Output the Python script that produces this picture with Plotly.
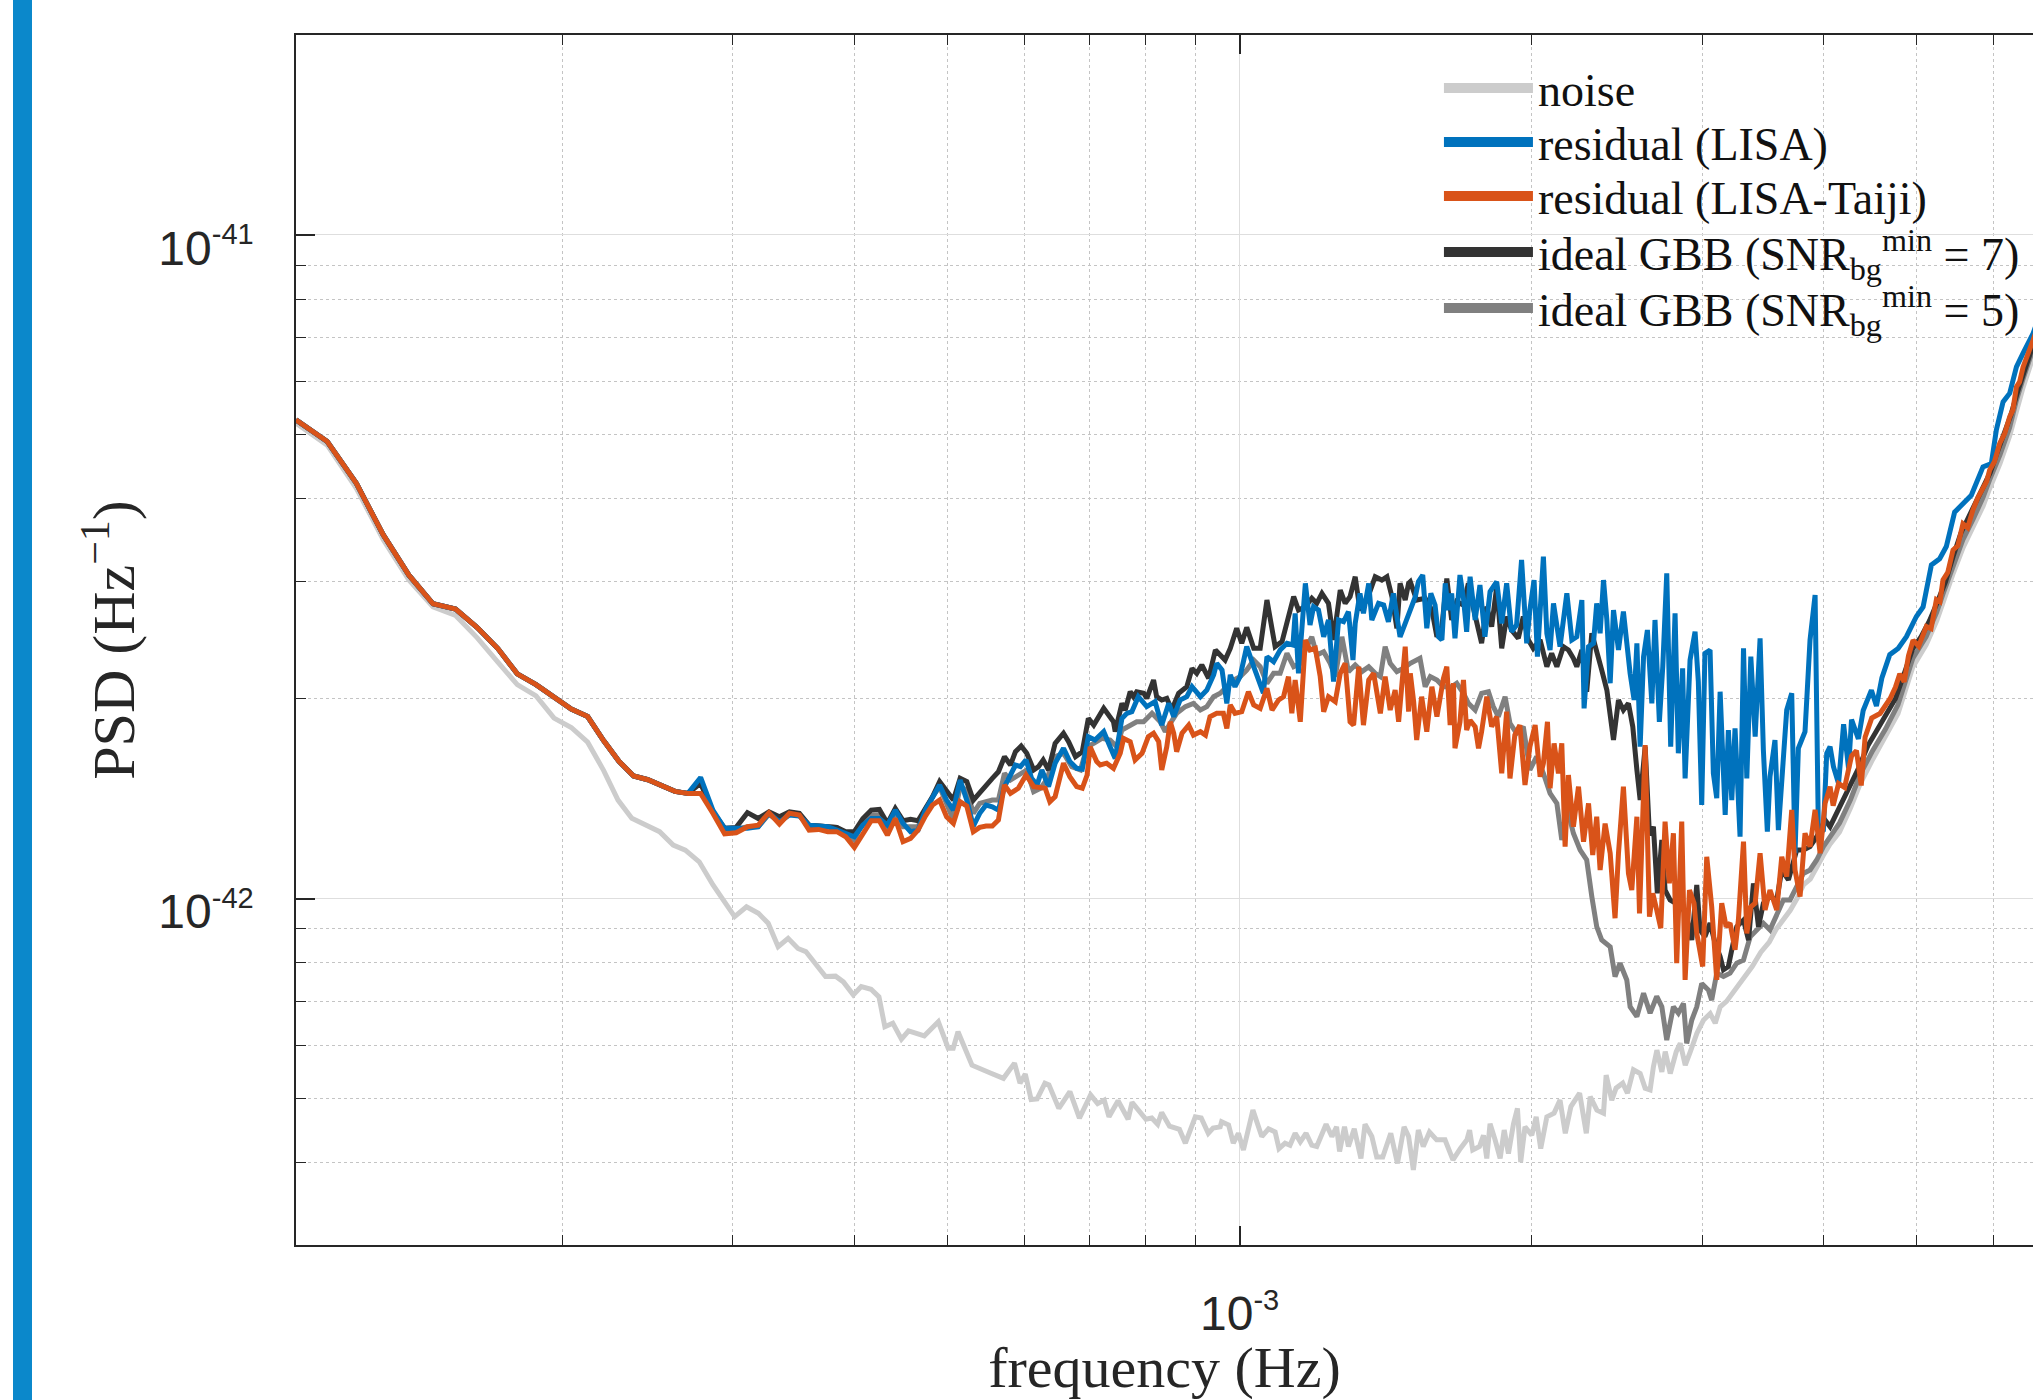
import plotly.graph_objects as go

# ---------------- data (frequency in mHz, PSD in units of 1e-42 Hz^-1) ----------------
f_noise = [0.1062, 0.1144, 0.1226, 0.1307, 0.1389, 0.1471, 0.1552, 0.1634, 0.1716, 0.1797, 0.1879, 0.1961, 0.2043, 0.2124, 0.2206,
           0.2283, 0.2359, 0.2520, 0.2603, 0.2679, 0.2769, 0.2861, 0.3012, 0.3098, 0.3187, 0.3262, 0.3340, 0.3420, 0.3501, 0.3567,
           0.3738, 0.3828, 0.3900, 0.3993, 0.4069, 0.4165, 0.4244, 0.4304, 0.4386, 0.4477, 0.4553, 0.4727, 0.4887, 0.5003, 0.5063,
           0.5121, 0.5294, 0.5420, 0.5546, 0.5705, 0.5857, 0.5934, 0.6009, 0.6093, 0.6180, 0.6296, 0.6356, 0.6507, 0.6681, 0.6834,
           0.7018, 0.7136, 0.7249, 0.7331, 0.7491, 0.7672, 0.7744, 0.8003, 0.8115, 0.8230, 0.8308, 0.8465, 0.8667, 0.8790, 0.9000,
           0.9127, 0.9282, 0.9388, 0.9548,
           0.958, 0.974, 0.985, 0.997, 1.009, 1.032, 1.054, 1.071, 1.088, 1.098, 1.114, 1.127, 1.141, 1.155, 1.171,
           1.187, 1.201, 1.228, 1.245, 1.259, 1.268, 1.283, 1.295, 1.313, 1.334, 1.347, 1.369, 1.385, 1.405, 1.432,
           1.455, 1.478, 1.494, 1.511, 1.529, 1.547, 1.570, 1.597, 1.629, 1.660, 1.689, 1.716, 1.727, 1.740, 1.768,
           1.785, 1.799, 1.813, 1.835, 1.857, 1.875, 1.894, 1.917, 1.935, 1.950, 1.970, 2.002, 2.023, 2.045, 2.075,
           2.111, 2.141, 2.168, 2.197, 2.243, 2.279, 2.300, 2.337, 2.374, 2.389, 2.421, 2.446, 2.485, 2.513, 2.549,
           2.590, 2.621, 2.652, 2.673, 2.695, 2.727, 2.749, 2.782, 2.822, 2.849, 2.883, 2.918, 2.964, 3.011, 3.059,
           3.096, 3.133,
           3.18, 3.25, 3.31, 3.38, 3.45, 3.52, 3.58, 3.64, 3.70, 3.76, 3.82, 3.88, 3.94, 4.00, 4.07, 4.16, 4.27, 4.37,
           4.50, 4.64, 4.78, 4.95, 5.11, 5.24, 5.32, 5.45, 5.58, 5.71, 5.85, 5.94, 6.09, 6.23, 6.33, 6.43, 6.59, 6.70]
psd_noise = [5.20, 4.82, 4.15, 3.47, 3.02, 2.75, 2.67, 2.47, 2.27, 2.10, 2.02, 1.87, 1.81, 1.72, 1.56,
             1.407, 1.321, 1.261, 1.204, 1.183, 1.136, 1.048, 0.939, 0.972, 0.950, 0.918, 0.846, 0.871, 0.841, 0.832,
             0.763, 0.764, 0.749, 0.716, 0.737, 0.730, 0.711, 0.641, 0.649, 0.614, 0.632, 0.621, 0.652, 0.595, 0.595,
             0.630, 0.561, 0.552, 0.545, 0.536, 0.565, 0.527, 0.544, 0.498, 0.499, 0.527, 0.524, 0.483, 0.512, 0.467,
             0.506, 0.491, 0.497, 0.469, 0.496, 0.465, 0.493, 0.465, 0.467, 0.457, 0.476, 0.454, 0.449, 0.428, 0.469,
             0.467, 0.443, 0.451, 0.453,
             0.461, 0.456, 0.428, 0.443, 0.418, 0.480, 0.438, 0.450, 0.445, 0.420, 0.428, 0.425, 0.443, 0.430, 0.443,
             0.425, 0.423, 0.457, 0.438, 0.453, 0.416, 0.453, 0.423, 0.450, 0.406, 0.457, 0.438, 0.408, 0.408, 0.443,
             0.399, 0.453, 0.438, 0.390, 0.448, 0.423, 0.445, 0.433, 0.433, 0.404, 0.420, 0.433, 0.448, 0.418, 0.423,
             0.440, 0.406, 0.458, 0.433, 0.406, 0.448, 0.413, 0.458, 0.483, 0.401, 0.453, 0.440, 0.469, 0.420, 0.469,
             0.475, 0.497, 0.443, 0.486, 0.509, 0.443, 0.503, 0.480, 0.475, 0.542, 0.497, 0.518, 0.527, 0.509, 0.552,
             0.545, 0.518, 0.515, 0.558, 0.591, 0.548, 0.588, 0.545, 0.588, 0.605, 0.561, 0.588, 0.627, 0.656, 0.671,
             0.649, 0.687,
             0.70, 0.73, 0.76, 0.79, 0.83, 0.86, 0.90, 0.93, 0.96, 1.00, 1.05, 1.07, 1.11, 1.16, 1.21, 1.26, 1.37, 1.49,
             1.62, 1.75, 1.90, 2.23, 2.41, 2.62, 2.80, 3.09, 3.38, 3.61, 3.90, 4.14, 4.52, 4.97, 5.45, 5.87, 6.55, 7.05]

# low-frequency part shared by the residual / ideal-GBB curves
f_low = [0.1062, 0.1144, 0.1226, 0.1307, 0.1389, 0.1471, 0.1552, 0.1634, 0.1716, 0.1797, 0.1879, 0.1961, 0.2043, 0.2124,
         0.2206, 0.2288, 0.2369, 0.2451, 0.2533, 0.2614, 0.2696]
psd_low = [5.26, 4.88, 4.22, 3.53, 3.07, 2.78, 2.73, 2.56, 2.38, 2.18, 2.10, 2.01, 1.93, 1.88, 1.73, 1.61, 1.53, 1.51,
           1.48, 1.45, 1.44]
f_plateau = [0.2778, 0.2860, 0.2941, 0.3023, 0.3105, 0.3186, 0.3268, 0.3350, 0.3431, 0.3513, 0.3595, 0.3677, 0.3758,
             0.3840, 0.3922, 0.4003, 0.4085, 0.4167, 0.4248, 0.4330, 0.4412, 0.4494, 0.4575, 0.4657, 0.4739, 0.4820,
             0.4902, 0.4984, 0.5065, 0.5147, 0.5229, 0.5311, 0.5392, 0.5474, 0.5556, 0.5637, 0.5719, 0.5801]

# residual (LISA)
psd_lisa_plateau = [1.522, 1.359, 1.276, 1.276, 1.276, 1.283, 1.344, 1.305, 1.336, 1.331, 1.290, 1.286, 1.283, 1.268,
                    1.254, 1.239, 1.290, 1.320, 1.320, 1.290, 1.359, 1.298, 1.261, 1.268, 1.359, 1.423, 1.483, 1.407,
                    1.359, 1.508, 1.407, 1.286, 1.344, 1.383, 1.375, 1.359, 1.474, 1.535]
f_lisa_high = [0.587, 0.594, 0.602, 0.610, 0.618, 0.625, 0.635, 0.645, 0.658, 0.668, 0.679, 0.688, 0.698, 0.709, 0.724,
               0.735, 0.744, 0.756, 0.765, 0.774, 0.786, 0.802, 0.818, 0.831, 0.845, 0.855, 0.868, 0.882, 0.893, 0.911,
               0.925, 0.940, 0.947, 0.959, 0.970, 0.978, 0.989, 1.001, 1.017, 1.034, 1.050, 1.058, 1.067, 1.084, 1.101,
               1.119, 1.135, 1.141, 1.150, 1.169, 1.182, 1.192, 1.206, 1.221, 1.235, 1.250, 1.265, 1.280, 1.295, 1.309,
               1.316, 1.331, 1.342, 1.359, 1.369, 1.391, 1.408, 1.424, 1.441, 1.464, 1.482,
               1.500, 1.518, 1.529, 1.545, 1.560, 1.575, 1.591, 1.604, 1.617, 1.630, 1.642, 1.655, 1.668, 1.688, 1.702,
               1.715, 1.729, 1.750, 1.770, 1.791, 1.813, 1.842, 1.864, 1.886, 1.908, 1.931, 1.954, 1.978, 1.993, 2.013,
               2.029, 2.058, 2.075, 2.091, 2.108, 2.141, 2.176, 2.202, 2.228, 2.255, 2.267, 2.291, 2.318, 2.336, 2.355,
               2.374, 2.393, 2.412, 2.431, 2.460, 2.489, 2.509, 2.529, 2.553, 2.570, 2.590, 2.611, 2.635, 2.663, 2.683,
               2.711, 2.733, 2.759, 2.785, 2.814, 2.836, 2.865, 2.882, 2.916, 2.951, 2.974, 2.998, 3.021, 3.058, 3.082,
               3.107, 3.132, 3.170, 3.194, 3.220, 3.245, 3.284, 3.311, 3.337, 3.369, 3.404, 3.444, 3.471, 3.504, 3.526,
               3.568, 3.597, 3.626, 3.669, 3.713, 3.742, 3.772, 3.832, 3.878, 3.925, 3.956, 4.003, 4.035, 4.067,
               4.10, 4.15, 4.20, 4.25, 4.28, 4.35, 4.40, 4.487, 4.541, 4.60, 4.687, 4.781, 4.876, 4.993, 5.073,
               5.174, 5.277, 5.361, 5.468, 5.577, 5.689, 5.849, 5.966, 6.038, 6.135, 6.233, 6.333, 6.434, 6.589, 6.70]
psd_lisa_high = [1.589, 1.580, 1.617, 1.517, 1.483, 1.562, 1.474, 1.599, 1.684, 1.608, 1.571, 1.566, 1.753, 1.733, 1.784,
                 1.693, 1.626, 1.868, 1.901, 1.912, 2.014, 1.946, 1.980, 1.825, 1.968, 1.879, 1.991, 2.014, 2.085, 2.014,
                 2.061, 2.172, 2.261, 2.209, 1.968, 2.172, 2.085, 2.159, 2.396, 2.235, 2.085, 2.038, 2.314, 2.274, 2.368,
                 2.424, 2.410, 2.689, 2.184, 2.984, 2.582, 2.752, 2.720, 2.479, 2.628, 2.122, 2.628, 2.612, 2.705, 2.287,
                 2.597, 2.882, 2.689, 2.984, 2.628, 2.784, 2.768, 2.612, 2.882, 2.479, 2.597,
                 2.736, 2.849, 3.001, 3.071, 2.553, 2.882, 2.768, 2.479, 2.452, 2.984, 2.720, 2.882, 2.466, 3.071, 2.833,
                 2.523, 3.053, 2.628, 2.967, 2.479, 2.899, 3.001, 2.597, 2.984, 2.523, 2.582, 3.236, 2.424, 2.720, 3.018,
                 2.314, 3.273, 2.509, 2.368, 2.784, 2.396, 2.882, 2.452, 2.479, 2.816, 1.934, 2.396, 2.424, 2.784, 2.509,
                 3.018, 2.628, 2.110, 2.720, 2.368, 2.705, 2.396, 2.184, 1.991, 2.424, 1.693, 2.314, 2.538, 1.968, 2.628,
                 1.846, 2.235, 3.089, 1.693, 2.689, 1.655, 2.222, 1.517, 2.287, 2.523, 2.122, 1.383, 2.341, 2.368, 1.544,
                 1.416, 2.049, 1.336, 1.794, 1.407, 1.804, 1.239, 2.382, 1.517, 2.314, 1.753, 2.466, 1.674, 1.261, 1.526,
                 1.733, 1.268, 1.474, 1.923, 2.038, 1.170, 1.684, 1.784, 2.452, 2.866, 1.254, 1.268, 1.655, 1.693,
                 1.58, 1.49, 1.83, 1.57, 1.86, 1.74, 1.92, 2.06, 1.95, 2.15, 2.33, 2.38, 2.48, 2.66, 2.75,
                 3.18, 3.25, 3.39, 3.82, 3.94, 4.05, 4.47, 4.52, 5.08, 5.60, 5.77, 6.32, 6.63, 7.10, 7.60]

# residual (LISA-Taiji)
psd_taiji_plateau = [1.440, 1.344, 1.251, 1.256, 1.283, 1.290, 1.347, 1.295, 1.344, 1.336, 1.268, 1.271, 1.261, 1.261,
                     1.239, 1.194, 1.251, 1.310, 1.310, 1.246, 1.320, 1.218, 1.232, 1.268, 1.331, 1.383, 1.407, 1.328,
                     1.298, 1.399, 1.378, 1.261, 1.280, 1.286, 1.286, 1.313, 1.483, 1.440]
f_taiji_high = [0.591, 0.602, 0.613, 0.623, 0.630, 0.637, 0.645, 0.658, 0.668, 0.679, 0.688, 0.696, 0.701, 0.712, 0.718,
                0.729, 0.741, 0.753, 0.759, 0.771, 0.780, 0.793, 0.805, 0.815, 0.825, 0.831, 0.841, 0.848, 0.855, 0.861,
                0.872, 0.886, 0.896, 0.911, 0.922, 0.932, 0.947, 0.962, 0.970, 0.978, 0.989, 1.005, 1.021, 1.034, 1.050,
                1.067, 1.080, 1.097, 1.110, 1.123, 1.132, 1.141, 1.155, 1.169, 1.182, 1.197, 1.211, 1.221, 1.235, 1.255,
                1.270, 1.285, 1.300, 1.311, 1.327, 1.342, 1.359, 1.375, 1.397, 1.413, 1.430, 1.447, 1.459, 1.482, 1.494,
                1.500, 1.512, 1.523, 1.541, 1.560, 1.579, 1.598, 1.610, 1.623, 1.636, 1.649, 1.662, 1.668, 1.688, 1.702,
                1.715, 1.729, 1.750, 1.764, 1.777, 1.799, 1.820, 1.842, 1.864, 1.886, 1.901, 1.923, 1.946, 1.970, 1.993,
                2.018, 2.042, 2.058, 2.078, 2.091, 2.111, 2.133, 2.150, 2.167, 2.184, 2.210, 2.237, 2.264, 2.291, 2.314,
                2.336, 2.355, 2.383, 2.412, 2.440, 2.460, 2.489, 2.519, 2.539, 2.570, 2.586, 2.621, 2.648, 2.669, 2.694,
                2.720, 2.748, 2.776, 2.803, 2.825, 2.859, 2.882, 2.912, 2.944, 2.963, 3.005, 3.034, 3.070, 3.107, 3.144,
                3.177, 3.207, 3.245, 3.271, 3.311, 3.337, 3.369, 3.404, 3.444, 3.485, 3.526, 3.583, 3.626, 3.669, 3.713,
                3.742, 3.787, 3.832, 3.878, 3.925, 3.972, 4.019, 4.067,
                4.097, 4.15, 4.21, 4.28, 4.33, 4.38, 4.42, 4.49, 4.58, 4.69, 4.75, 4.80, 4.85, 4.90, 4.954,
                5.02, 5.113, 5.17, 5.236, 5.28, 5.319, 5.38, 5.447, 5.51, 5.577, 5.64, 5.711, 5.78, 5.849, 5.90,
                5.943, 6.01, 6.086, 6.16, 6.233, 6.28, 6.333, 6.38, 6.434, 6.50, 6.589, 6.70]
psd_taiji_high = [1.466, 1.535, 1.474, 1.466, 1.466, 1.399, 1.424, 1.599, 1.526, 1.474, 1.466, 1.535, 1.693, 1.608, 1.589,
                  1.599, 1.571, 1.655, 1.743, 1.723, 1.617, 1.655, 1.753, 1.774, 1.723, 1.562, 1.693, 1.846, 1.774, 1.664,
                  1.774, 1.825, 1.763, 1.784, 1.763, 1.879, 1.901, 1.901, 1.804, 1.957, 1.901, 1.912, 2.049, 1.957, 1.934,
                  2.073, 1.923, 1.991, 2.014, 2.159, 1.901, 2.134, 1.846, 2.452, 2.368, 2.382, 2.159, 1.912, 2.014, 1.980,
                  2.184, 2.261, 1.846, 1.825, 2.235, 1.825, 2.134, 2.184, 1.901, 2.159, 1.923, 2.061, 1.846, 2.396, 1.912,
                  2.184, 1.980, 1.733, 2.014, 1.784, 2.085, 1.879, 2.026, 2.147, 2.235, 1.825, 2.110, 1.684, 1.846, 2.134,
                  1.794, 1.856, 1.815, 1.684, 1.784, 2.014, 1.815, 1.879, 1.544, 1.912, 1.517, 1.763, 1.825, 1.483, 1.693,
                  1.825, 1.526, 1.599, 1.846, 1.466, 1.713, 1.544, 1.713, 1.197, 1.535, 1.283, 1.474, 1.218, 1.391, 1.163,
                  1.328, 1.104, 1.297, 1.170, 0.934, 1.170, 1.474, 1.091, 1.030, 1.328, 0.950, 1.703, 0.939, 1.018, 0.961,
                  0.902, 1.306, 1.054, 1.254, 0.799, 1.306, 0.754, 1.030, 0.984, 0.886, 0.790, 1.156, 0.972, 0.754, 0.984,
                  0.907, 0.918, 0.837, 0.928, 1.218, 0.886, 0.972, 0.984, 1.170, 0.961, 1.030, 0.961, 1.156, 1.079, 1.360,
                  1.104, 1.007, 1.254, 1.197, 1.360, 1.170, 1.391, 1.474,
                  1.38, 1.49, 1.47, 1.64, 1.67, 1.48, 1.75, 1.87, 1.90, 2.00, 2.08, 2.18, 2.12, 2.32, 2.45,
                  2.40, 2.57, 2.55, 2.82, 2.80, 3.02, 3.10, 3.35, 3.40, 3.67, 3.62, 3.85, 4.02, 4.17, 4.25,
                  4.42, 4.55, 4.85, 5.02, 5.32, 5.45, 5.90, 6.00, 6.32, 6.55, 6.94, 7.45]

# ideal GBB (SNR_bg^min = 7)
psd_gbb7_plateau = [1.491, 1.351, 1.276, 1.280, 1.347, 1.320, 1.351, 1.328, 1.351, 1.344, 1.290, 1.286, 1.283, 1.280,
                    1.261, 1.261, 1.320, 1.359, 1.362, 1.298, 1.367, 1.310, 1.316, 1.310, 1.367, 1.423, 1.500, 1.457,
                    1.407, 1.517, 1.500, 1.407, 1.440, 1.474, 1.517, 1.552, 1.635, 1.589]
f_gbb7_high = [0.587, 0.595, 0.603, 0.613, 0.620, 0.627, 0.635, 0.645, 0.658, 0.666, 0.677, 0.688, 0.698, 0.707, 0.724,
               0.741, 0.744, 0.756, 0.762, 0.771, 0.777, 0.783, 0.796, 0.802, 0.815, 0.821, 0.831, 0.841, 0.851, 0.865,
               0.882, 0.893, 0.903, 0.914, 0.929, 0.944, 0.955, 0.966, 0.978, 0.993, 1.005, 1.017, 1.034, 1.050, 1.067,
               1.077, 1.088, 1.106, 1.119, 1.137, 1.150, 1.169, 1.187, 1.201, 1.216, 1.235, 1.250, 1.270, 1.285, 1.300,
               1.316, 1.331, 1.353, 1.380, 1.402, 1.419, 1.436, 1.453, 1.464, 1.482, 1.494,
               1.500, 1.523, 1.554, 1.579, 1.598, 1.617, 1.636, 1.655, 1.675, 1.702, 1.722, 1.743, 1.777, 1.799, 1.820,
               1.842, 1.864, 1.886, 1.908, 1.939, 1.962, 1.986, 2.009, 2.042, 2.075, 2.099, 2.125, 2.158, 2.184, 2.210,
               2.228, 2.255, 2.281, 2.309, 2.336, 2.364, 2.393, 2.431, 2.460, 2.489, 2.519, 2.545, 2.570, 2.590, 2.621,
               2.648, 2.673, 2.698, 2.727, 2.748, 2.781, 2.825, 2.859, 2.893, 2.928, 2.963, 2.986, 3.021, 3.058, 3.095,
               3.132, 3.157, 3.194, 3.220, 3.258, 3.311, 3.351, 3.390, 3.431, 3.471, 3.526, 3.583, 3.626, 3.684, 3.757,
               3.817, 3.878, 3.940, 4.019, 4.067,
               4.15, 4.25, 4.35, 4.45, 4.55, 4.65, 4.75, 4.85, 4.95, 5.05, 5.15, 5.25, 5.35, 5.45, 5.55, 5.65, 5.75,
               5.85, 5.95, 6.05, 6.15, 6.25, 6.35, 6.45, 6.59, 6.70]
psd_gbb7_high = [1.664, 1.697, 1.655, 1.562, 1.580, 1.617, 1.562, 1.713, 1.774, 1.723, 1.636, 1.664, 1.868, 1.825, 1.934,
                 1.846, 1.784, 1.968, 1.923, 2.049, 2.014, 2.049, 2.038, 2.003, 2.134, 2.014, 1.991, 2.003, 1.923, 2.038,
                 2.085, 2.222, 2.184, 2.248, 2.147, 2.368, 2.327, 2.287, 2.382, 2.553, 2.424, 2.561, 2.382, 2.382, 2.816,
                 2.628, 2.396, 2.438, 2.597, 2.849, 2.720, 2.752, 2.833, 2.784, 2.882, 2.784, 2.452, 2.915, 2.784, 2.849,
                 3.053, 2.720, 2.816, 3.053, 3.018, 3.053, 2.849, 2.553, 2.984, 2.816, 2.984,
                 3.001, 2.816, 2.833, 2.720, 2.479, 2.568, 3.035, 2.628, 2.800, 2.768, 2.984, 2.736, 2.424, 2.752, 2.568,
                 2.949, 2.382, 2.659, 2.538, 2.466, 2.659, 2.452, 2.382, 2.452, 2.235, 2.341, 2.235, 2.396, 2.368, 2.301,
                 2.235, 2.368, 2.049, 2.509, 2.368, 2.209, 2.061, 1.733, 1.991, 1.923, 1.968, 1.815, 1.562, 1.407, 1.693,
                 1.246, 1.283, 1.018, 1.225, 1.030, 0.995, 0.984, 0.972, 0.939, 0.866, 1.048, 0.897, 0.876, 0.918, 0.856,
                 0.818, 0.781, 0.790, 0.837, 0.907, 0.928, 0.866, 1.054, 0.907, 0.984, 1.007, 0.995, 1.104, 1.067, 1.183,
                 1.183, 1.197, 1.239, 1.313, 1.283,
                 1.36, 1.46, 1.57, 1.70, 1.80, 1.90, 2.00, 2.18, 2.38, 2.48, 2.62, 2.80, 3.00, 3.28, 3.55, 3.75, 3.95,
                 4.15, 4.38, 4.70, 5.00, 5.35, 5.80, 6.20, 6.85, 7.35]

# ideal GBB (SNR_bg^min = 5)
psd_gbb5_plateau = [1.500, 1.351, 1.268, 1.271, 1.283, 1.283, 1.340, 1.305, 1.340, 1.336, 1.290, 1.286, 1.283, 1.280,
                    1.254, 1.225, 1.305, 1.336, 1.336, 1.283, 1.344, 1.283, 1.283, 1.283, 1.359, 1.423, 1.474, 1.383,
                    1.313, 1.474, 1.457, 1.344, 1.391, 1.399, 1.407, 1.407, 1.544, 1.508]
f_gbb5_high = [0.587, 0.596, 0.603, 0.613, 0.623, 0.632, 0.645, 0.658, 0.671, 0.685, 0.696, 0.707, 0.721, 0.735, 0.747,
               0.756, 0.768, 0.783, 0.796, 0.812, 0.828, 0.838, 0.848, 0.861, 0.879, 0.896, 0.911, 0.925, 0.940, 0.955,
               0.970, 0.986, 1.001, 1.017, 1.034, 1.050, 1.067, 1.084, 1.101, 1.119, 1.137, 1.155, 1.173, 1.187, 1.201,
               1.221, 1.240, 1.255, 1.275, 1.295, 1.316, 1.337, 1.359, 1.380, 1.397, 1.413, 1.430, 1.453, 1.476,
               1.500, 1.535, 1.554, 1.573, 1.598, 1.623, 1.655, 1.675, 1.702, 1.722, 1.750, 1.777, 1.806, 1.827, 1.849,
               1.879, 1.901, 1.931, 1.962, 1.993, 2.025, 2.058, 2.091, 2.125, 2.150, 2.176, 2.210, 2.246, 2.281, 2.309,
               2.336, 2.364, 2.412, 2.440, 2.469, 2.509, 2.529, 2.570, 2.611, 2.652, 2.694, 2.727, 2.759, 2.803, 2.836,
               2.871, 2.893, 2.928, 2.963, 2.998, 3.046, 3.070, 3.107, 3.157, 3.207, 3.258, 3.311, 3.364, 3.417, 3.471,
               3.526, 3.583, 3.640, 3.698, 3.757, 3.817, 3.878, 3.940, 4.003, 4.067,
               4.16, 4.27, 4.37, 4.50, 4.64, 4.78, 4.95, 5.11, 5.24, 5.32, 5.45, 5.58, 5.71, 5.85, 5.94, 6.09, 6.23,
               6.33, 6.43, 6.59, 6.70]
psd_gbb5_high = [1.526, 1.544, 1.562, 1.449, 1.466, 1.509, 1.636, 1.655, 1.580, 1.562, 1.693, 1.713, 1.743, 1.733, 1.693,
                 1.794, 1.815, 1.846, 1.846, 1.901, 1.846, 1.784, 1.836, 1.901, 1.946, 1.968, 1.923, 1.946, 2.014, 2.038,
                 2.085, 2.134, 2.159, 2.209, 2.287, 2.235, 2.110, 2.184, 2.184, 2.341, 2.235, 2.261, 2.396, 2.479, 2.327,
                 2.354, 2.261, 2.159, 2.479, 2.197, 2.248, 2.197, 2.235, 2.184, 2.159, 2.396, 2.261, 2.197, 2.222,
                 2.261, 2.301, 2.085, 2.159, 2.134, 2.085, 2.085, 2.110, 2.038, 1.968, 1.923, 2.038, 2.049, 1.946, 1.879,
                 2.014, 1.836, 1.774, 1.815, 1.562, 1.636, 1.544, 1.440, 1.391, 1.225, 1.375, 1.254, 1.183, 1.143, 1.007,
                 0.907, 0.866, 0.846, 0.763, 0.799, 0.754, 0.687, 0.664, 0.720, 0.672, 0.712, 0.687, 0.612, 0.687, 0.672,
                 0.695, 0.605, 0.656, 0.687, 0.745, 0.728, 0.703, 0.772, 0.763, 0.772, 0.799, 0.808, 0.876, 0.897, 0.918,
                 0.897, 0.950, 0.995, 0.995, 1.042, 1.091, 1.104, 1.143, 1.197, 1.239,
                 1.30, 1.41, 1.54, 1.67, 1.80, 1.96, 2.30, 2.48, 2.70, 2.88, 3.18, 3.48, 3.72, 4.02, 4.27, 4.66, 5.12,
                 5.62, 6.05, 6.75, 7.25]

legend_names = ["noise", "residual (LISA)", "residual (LISA-Taiji)",
                "ideal GBB (SNR<sub>bg</sub><sup>min</sup> = 7)", "ideal GBB (SNR<sub>bg</sub><sup>min</sup> = 5)"]
colors = ["#cccccc", "#0072bd", "#d95319", "#333333", "#808080"]

SUP = "<sup><span style='font-size:29px'>%s</span></sup>"
x_ticks = [1e-3]
x_ticktext = ["10" + SUP % "-3"]
x_minor = [2e-4, 3e-4, 4e-4, 5e-4, 6e-4, 7e-4, 8e-4, 9e-4, 2e-3, 3e-3, 4e-3, 5e-3, 6e-3]
y_ticks = [1e-42, 1e-41]
y_ticktext = ["10" + SUP % "-42", "10" + SUP % "-41"]
y_minor = [3e-43, 4e-43, 5e-43, 6e-43, 7e-43, 8e-43, 9e-43,
           2e-42, 3e-42, 4e-42, 5e-42, 6e-42, 7e-42, 8e-42, 9e-42, 2e-41]

# ---------------- build series ----------------
def hz(fl):
    return [v * 1e-3 for v in fl]

def psd(pl):
    return [v * 1e-42 for v in pl]

series = {
    "noise": (f_noise, psd_noise),
    "lisa": (f_low + f_plateau + f_lisa_high, psd_low + psd_lisa_plateau + psd_lisa_high),
    "taiji": (f_low + f_plateau + f_taiji_high, psd_low + psd_taiji_plateau + psd_taiji_high),
    "gbb7": (f_low + f_plateau + f_gbb7_high, psd_low + psd_gbb7_plateau + psd_gbb7_high),
    "gbb5": (f_low + f_plateau + f_gbb5_high, psd_low + psd_gbb5_plateau + psd_gbb5_high),
}
keys = ["noise", "lisa", "taiji", "gbb7", "gbb5"]
draw_order = ["noise", "gbb5", "gbb7", "lisa", "taiji"]

W, H = 2033, 1400
L, R, T, B = 296, 0, 35, 155
PH = H - T - B
# legend rows (pixel centres measured on the reference)
legend_rows_px = [88, 142, 196, 252, 308]
legend_ids = ["legend", "legend2", "legend3", "legend4", "legend5"]

fig = go.Figure()
for k in draw_order:
    i = keys.index(k)
    fx, fy = series[k]
    fig.add_trace(go.Scatter(x=hz(fx), y=psd(fy), mode="lines", showlegend=False,
                             line=dict(color=colors[i], width=5), hoverinfo="skip"))
# legend entries (thick swatches), one legend box per row for exact row spacing
for i, k in enumerate(keys):
    fig.add_trace(go.Scatter(x=[None], y=[None], mode="lines", name=legend_names[i],
                             line=dict(color=colors[i], width=10), legend=legend_ids[i]))

tick_font = dict(family="Liberation Sans, Arial, sans-serif", size=48, color="#262626")
serif = "Liberation Serif, Times New Roman, serif"
legend_font = dict(family=serif, size=46, color="#111111")

legends = {}
for i, lid in enumerate(legend_ids):
    legends[lid] = dict(x=0.658, y=(H - B - legend_rows_px[i]) / PH, xanchor="left", yanchor="middle",
                        bgcolor="rgba(0,0,0,0)", borderwidth=0, font=legend_font, itemwidth=89)

fig.update_layout(
    width=W, height=H, autosize=False,
    margin=dict(l=L, r=R, t=T, b=B, pad=0),
    paper_bgcolor="white", plot_bgcolor="white",
    showlegend=True,
    **legends,
    xaxis=dict(type="log", range=[-3.9738, -2.1813],
               tickmode="array", tickvals=x_ticks, ticktext=x_ticktext,
               ticks="inside", ticklen=19, tickwidth=1.5, tickcolor="#262626",
               tickfont=tick_font, ticklabelstandoff=26,
               showline=True, linecolor="#262626", linewidth=1.5, mirror="ticks",
               showgrid=True, gridcolor="#dedede", gridwidth=1.2,
               minor=dict(tickmode="array", tickvals=x_minor, ticks="inside", ticklen=10,
                          tickwidth=1.2, tickcolor="#262626",
                          showgrid=True, gridcolor="#c4c4c4", griddash="dot", gridwidth=1.2),
               title=dict(text="frequency (Hz)", font=dict(family=serif, size=58, color="#262626"),
                          standoff=8),
               zeroline=False),
    yaxis=dict(type="log", range=[-42.5219, -40.6992],
               tickmode="array", tickvals=y_ticks, ticktext=y_ticktext,
               ticks="inside", ticklen=19, tickwidth=1.5, tickcolor="#262626",
               tickfont=tick_font, ticklabelstandoff=31, ticklabelshift=13,
               showline=True, linecolor="#262626", linewidth=1.5, mirror=False,
               showgrid=True, gridcolor="#dedede", gridwidth=1.2,
               minor=dict(tickmode="array", tickvals=y_minor, ticks="inside", ticklen=10,
                          tickwidth=1.2, tickcolor="#262626",
                          showgrid=True, gridcolor="#c4c4c4", griddash="dot", gridwidth=1.2),
               title=dict(text="PSD (Hz<sup>\u22121</sup>)", font=dict(family=serif, size=60, color="#262626"),
                          standoff=4),
               zeroline=False),
    shapes=[dict(type="rect", xref="paper", yref="paper",
                 x0=(13 - L) / (W - L - R), x1=(32 - L) / (W - L - R),
                 y0=-B / PH - 0.01, y1=(H - B + 5) / PH,
                 fillcolor="#0b88cb", line=dict(width=0), layer="above")],
)

post = ("document.body.style.margin='0';document.body.style.padding='0';"
        "document.body.style.overflow='hidden';"
        "var gd=document.getElementById('{plot_id}');"
        "Plotly.relayout(gd,{width:%d,height:%d});" % (W, H))
fig.write_html("out.html", config={"responsive": False, "displayModeBar": False},
               default_width="%dpx" % W, default_height="%dpx" % H, post_script=post)
